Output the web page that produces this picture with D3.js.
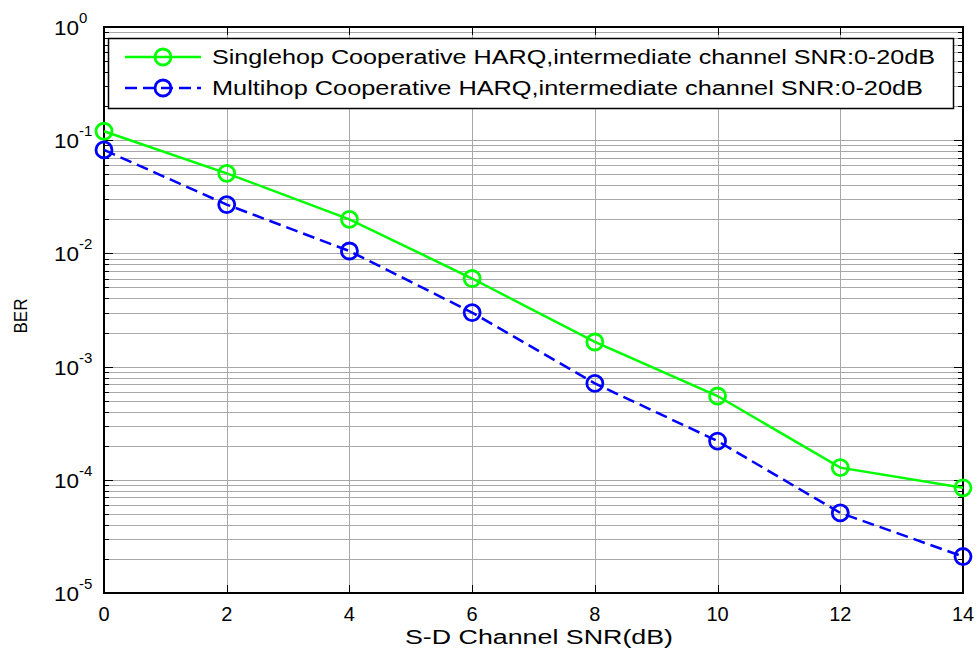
<!DOCTYPE html>
<html>
<head>
<meta charset="utf-8">
<script src="https://cdn.jsdelivr.net/npm/d3@7"></script>
<style>
  body { margin: 0; background: #fff; }
  svg { font-family: "Liberation Sans", Arial, sans-serif; }
</style>
</head>
<body>
<svg id="chart" width="979" height="655"></svg>
<script>
/* DATA */
var snrValues = [0, 2, 4, 6, 8, 10, 12, 14];
var singlehopBer = [0.12, 0.051, 0.020, 0.0060, 0.00165, 0.00055, 0.000128, 0.000085];
var multihopBer = [0.082, 0.027, 0.0105, 0.0030, 0.00071, 0.00022, 0.000051, 0.000021];
var xTicks = [0, 2, 4, 6, 8, 10, 12, 14];
var yDecades = [0, -1, -2, -3, -4, -5];
var legendLabels = [
  'Singlehop Cooperative HARQ,intermediate channel SNR:0-20dB',
  'Multihop Cooperative HARQ,intermediate channel SNR:0-20dB'
];

var plotLeft = 104, plotRight = 963, plotTop = 27, plotBottom = 593;
var svg = d3.select('#chart');

var x = d3.scaleLinear().domain([0, 14]).range([plotLeft, plotRight]);
var y = d3.scaleLog().domain([1e-5, 1]).range([plotBottom, plotTop]);

/* MINOR + MAJOR VALUES FOR THE LOG GRID */
var minorVals = [];
for (var e = -5; e < 0; e++) {
  for (var m = 2; m <= 9; m++) { minorVals.push(m * Math.pow(10, e)); }
}
var majorVals = yDecades.map(function(d) { return Math.pow(10, d); });

function py(d) { return Math.round(y(d)) + 0.5; }
function px(d) { return Math.round(x(d)) + 0.5; }

var grid = svg.append('g');
grid.selectAll('line.hg')
  .data(minorVals.concat(majorVals)).enter().append('line')
  .attr('x1', plotLeft).attr('x2', plotRight)
  .attr('y1', py).attr('y2', py)
  .attr('stroke', '#a8a8a8').attr('stroke-width', 1);
grid.selectAll('line.vg')
  .data(xTicks).enter().append('line')
  .attr('y1', plotTop).attr('y2', plotBottom)
  .attr('x1', px).attr('x2', px)
  .attr('stroke', '#a8a8a8').attr('stroke-width', 1);

/* TICKS INSIDE THE BOX ON ALL SIDES */
var ticks = svg.append('g').attr('stroke', '#000').attr('stroke-width', 1);
[plotLeft, plotRight].forEach(function(side) {
  var dir = side === plotLeft ? 1 : -1;
  ticks.append('g').selectAll('line')
    .data(minorVals).enter().append('line')
    .attr('x1', side).attr('x2', side + dir * 5)
    .attr('y1', py).attr('y2', py);
  ticks.append('g').selectAll('line')
    .data(majorVals).enter().append('line')
    .attr('x1', side).attr('x2', side + dir * 9)
    .attr('y1', py).attr('y2', py);
});
[plotTop, plotBottom].forEach(function(side) {
  var dir = side === plotBottom ? -1 : 1;
  ticks.append('g').selectAll('line')
    .data(xTicks).enter().append('line')
    .attr('y1', side).attr('y2', side + dir * 8)
    .attr('x1', px).attr('x2', px);
});

svg.append('rect')
  .attr('x', plotLeft).attr('y', plotTop)
  .attr('width', plotRight - plotLeft).attr('height', plotBottom - plotTop)
  .attr('fill', 'none').attr('stroke', '#000').attr('stroke-width', 2);

/* TICK LABELS */
svg.append('g').selectAll('text')
  .data(xTicks).enter().append('text')
  .attr('x', function(d) { return x(d); })
  .attr('y', 621)
  .attr('text-anchor', 'middle')
  .attr('font-size', 20)
  .text(function(d) { return d; });

var yl = svg.append('g').selectAll('text')
  .data(yDecades).enter().append('text')
  .attr('x', 54)
  .attr('y', function(d) { return y(Math.pow(10, d)) + 8; })
  .attr('font-size', 20);
yl.append('tspan').attr('textLength', 25).attr('lengthAdjust', 'spacingAndGlyphs').text('10');
yl.append('tspan')
  .attr('dy', -12)
  .attr('font-size', 15)
  .text(function(d) { return d; });

/* AXIS TITLES */
svg.append('text')
  .attr('x', 539).attr('y', 644)
  .attr('text-anchor', 'middle').attr('font-size', 20)
  .attr('textLength', 268).attr('lengthAdjust', 'spacingAndGlyphs')
  .text('S-D Channel SNR(dB)');
svg.append('text')
  .attr('transform', 'translate(27,316) rotate(-90)')
  .attr('text-anchor', 'middle').attr('font-size', 19)
  .attr('textLength', 35).attr('lengthAdjust', 'spacingAndGlyphs')
  .text('BER');

/* SERIES */
var series = [
  { name: legendLabels[0], values: singlehopBer, color: '#00ff00', dash: null, width: 723 },
  { name: legendLabels[1], values: multihopBer, color: '#0000ff', dash: '12,6', width: 711 }
];
var line = d3.line()
  .x(function(d) { return x(d[0]); })
  .y(function(d) { return y(d[1]); });

series.forEach(function(s) {
  var pts = snrValues.map(function(v, i) { return [v, s.values[i]]; });
  svg.append('path')
    .datum(pts)
    .attr('d', line)
    .attr('fill', 'none')
    .attr('stroke', s.color)
    .attr('stroke-width', 2.5)
    .attr('stroke-dasharray', s.dash);
  svg.append('g').selectAll('circle')
    .data(pts).enter().append('circle')
    .attr('cx', function(d) { return x(d[0]); })
    .attr('cy', function(d) { return y(d[1]); })
    .attr('r', 8)
    .attr('fill', 'none')
    .attr('stroke', s.color)
    .attr('stroke-width', 2.8);
});

/* LEGEND */
var lg = svg.append('g');
lg.append('rect')
  .attr('x', 108.5).attr('y', 38.5)
  .attr('width', 845).attr('height', 70)
  .attr('fill', '#fff').attr('stroke', '#000').attr('stroke-width', 1.5);
series.forEach(function(s, i) {
  var ly = 57 + i * 31;
  lg.append('line')
    .attr('x1', 125).attr('x2', 201)
    .attr('y1', ly).attr('y2', ly)
    .attr('stroke', s.color).attr('stroke-width', 2.5)
    .attr('stroke-dasharray', s.dash);
  lg.append('circle')
    .attr('cx', 163).attr('cy', ly).attr('r', 8)
    .attr('fill', 'none').attr('stroke', s.color).attr('stroke-width', 2.8);
  lg.append('text')
    .attr('x', 212).attr('y', ly + 7)
    .attr('font-size', 20)
    .attr('textLength', s.width).attr('lengthAdjust', 'spacingAndGlyphs')
    .text(s.name);
});
</script>
</body>
</html>
